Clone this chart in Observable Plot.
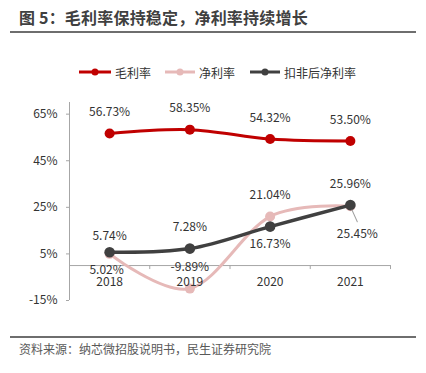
<!DOCTYPE html>
<html>
<head>
<meta charset="utf-8">
<script src="https://cdn.jsdelivr.net/npm/d3@7"></script>
<script src="https://cdn.jsdelivr.net/npm/@observablehq/plot@0.6"></script>
<style>
  html, body { margin: 0; padding: 0; background: #fff; }
  body { width: 426px; height: 373px; position: relative; overflow: hidden;
         font-family: "Noto Sans CJK SC", "Noto Sans", sans-serif; }
  #title { position: absolute; left: 19px; top: 6px; font-size: 16px; font-weight: bold; color: #404040; line-height: 22px; white-space: nowrap; letter-spacing: 0.2px; }
  #titleRule { position: absolute; left: 10px; top: 31px; width: 406px; height: 2px; background: #6e6e6e; }
  #legend { position: absolute; left: 0; top: 64px; width: 426px; height: 16px; }
  .item { position: absolute; top: 0; height: 16px; display: flex; align-items: center; font-size: 12px; color: #333; white-space: nowrap; }
  .item svg { margin-right: 4px; }
  #chart { position: absolute; left: 0; top: 90px; }
  #footRule { position: absolute; left: 10px; top: 336px; width: 406px; height: 2px; background: #6e6e6e; }
  #source { position: absolute; left: 19px; top: 340px; font-size: 12px; color: #595959; line-height: 17px; white-space: nowrap; }
</style>
</head>
<body>
<div id="title">图 5：毛利率保持稳定，净利率持续增长</div>
<div id="titleRule"></div>
<div id="legend"></div>
<div id="chart"></div>
<div id="footRule"></div>
<div id="source">资料来源：纳芯微招股说明书，民生证券研究院</div>
<script>
// ---- data ----
const years = ["2018", "2019", "2020", "2021"];
const seriesNames = ["毛利率", "净利率", "扣非后净利率"];
const grossMargin = [56.73, 58.35, 54.32, 53.50];
const netMargin = [5.02, -9.89, 21.04, 25.45];
const adjNetMargin = [5.74, 7.28, 16.73, 25.96];
const yTicks = [-15, 5, 25, 45, 65];

// ---- styles ----
const colors = ["#C00000", "#E6B9B8", "#404040"];
const widths = [3, 3, 3.5];
const radii = [5, 5, 5.3];
// label placement per point: dy offsets (pixels)
const labelDy = [
  [-21, -21, -21, -21],
  [16, -21, -21, 28],
  [-16, -21, 18, -21]
];
const labelDx = [
  [0, 0, 0, 0],
  [-3, 0, 0, 7],
  [0, 0, 0, 0]
];

const seriesValues = [grossMargin, netMargin, adjNetMargin];
const rows = seriesValues.flatMap((vals, s) =>
  vals.map((v, i) => ({series: seriesNames[s], s, i, year: years[i], value: v})));

const fmt = v => v.toFixed(2) + "%";
const xPos = d => d.i + 0.5;

const marks = [];
// axes lines
marks.push(Plot.ruleX([0], {stroke: "#a6a6a6", strokeWidth: 1}));
marks.push(Plot.ruleY([0], {stroke: "#a6a6a6", strokeWidth: 1}));
// y ticks
marks.push(Plot.ruleY(yTicks, {x1: 0, x2: 0, insetLeft: -3, stroke: "#a6a6a6"}));
marks.push(Plot.axisY({ticks: yTicks, tickSize: 0, tickPadding: 12, tickFormat: d => d + "%", fontSize: 12, fill: "#333", label: null}));
// x boundary ticks
marks.push(Plot.ruleX(d3.range(years.length + 1), {y1: 0, y2: 0, insetBottom: -4, stroke: "#a6a6a6"}));

seriesNames.forEach((name, s) => {
  const data = rows.filter(r => r.s === s);
  marks.push(Plot.line(data, {x: xPos, y: "value", stroke: colors[s], strokeWidth: widths[s], curve: "catmull-rom", tension: 0}));
  marks.push(Plot.dot(data, {x: xPos, y: "value", r: radii[s], fill: colors[s], stroke: "none"}));
});

// x labels (drawn above the lines)
marks.push(Plot.text(years, {x: (d, i) => i + 0.5, y: () => 0, dy: 16.5, text: d => d, fontSize: 12, fill: "#333"}));

// leader line for 净利率 2021 label
marks.push(Plot.vector(rows.filter(r => r.s === 1 && r.i === 3), {
  x: xPos, y: "value", length: 17, rotate: 156, anchor: "start", stroke: "#a0a0a0", strokeWidth: 1,
  shape: {draw(ctx, l) { ctx.moveTo(0, -4); ctx.lineTo(0, -l); }}
}));

// data labels
seriesNames.forEach((name, s) => {
  rows.filter(r => r.s === s).forEach(r => {
    marks.push(Plot.text([r], {x: xPos, y: "value", text: d => fmt(d.value), dy: labelDy[s][r.i], dx: labelDx[s][r.i], fontSize: 12, fill: "#333"}));
  });
});

const chart = Plot.plot({
  width: 426,
  height: 240,
  marginLeft: 69,
  marginRight: 36,
  marginTop: 12,
  marginBottom: 30,
  style: {fontFamily: '"Noto Sans CJK SC", "Noto Sans", sans-serif', fontSize: "12px", color: "#333", background: "transparent"},
  x: {type: "linear", domain: [0, years.length], axis: null},
  y: {domain: [-15, 70], axis: null},
  marks
});
document.getElementById("chart").appendChild(chart);

// legend
const legendX = [79, 165, 250];
const legendLen = [32, 30, 30];
const legend = document.getElementById("legend");
seriesNames.forEach((name, s) => {
  const item = document.createElement("div");
  item.className = "item";
  item.style.left = legendX[s] + "px";
  const L = legendLen[s];
  item.innerHTML = `<svg width="${L}" height="10"><line x1="0" y1="5" x2="${L}" y2="5" stroke="${colors[s]}" stroke-width="3"/><circle cx="${L/2}" cy="5" r="3.5" fill="${colors[s]}"/></svg><span>${name}</span>`;
  legend.appendChild(item);
});
</script>
</body>
</html>
